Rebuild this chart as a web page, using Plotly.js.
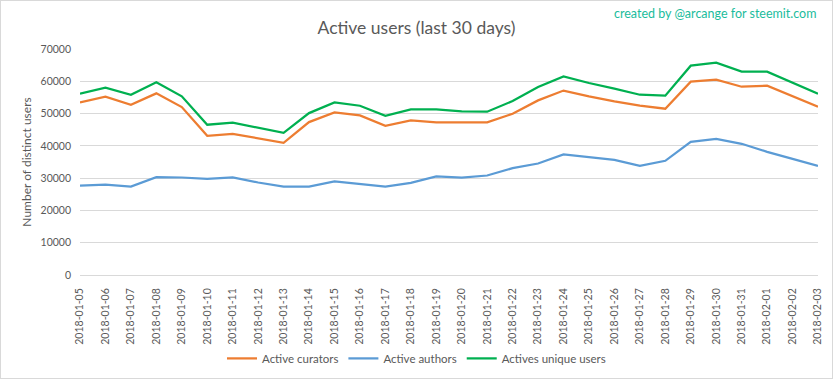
<!DOCTYPE html>
<html>
<head>
<meta charset="utf-8">
<script src="https://cdn.plot.ly/plotly-3.0.1.min.js"></script>
<style>
html,body{margin:0;padding:0;background:#fff;}
#wrap{width:833px;height:379px;box-sizing:border-box;border:1px solid #d9d9d9;}
#chart{width:831px;height:377px;}
</style>
</head>
<body>
<div id="wrap"><div id="chart"></div></div>
<script>
const dates = ["2018-01-05","2018-01-06","2018-01-07","2018-01-08","2018-01-09","2018-01-10","2018-01-11","2018-01-12","2018-01-13","2018-01-14","2018-01-15","2018-01-16","2018-01-17","2018-01-18","2018-01-19","2018-01-20","2018-01-21","2018-01-22","2018-01-23","2018-01-24","2018-01-25","2018-01-26","2018-01-27","2018-01-28","2018-01-29","2018-01-30","2018-01-31","2018-02-01","2018-02-02","2018-02-03"];
const curators = [53460,55220,52740,56260,52020,43120,43740,42400,40950,47360,50360,49430,46230,47880,47260,47260,47260,49950,54080,57130,55330,53780,52430,51500,59880,60500,58320,58630,55330,52120];
const authors = [27710,28020,27400,30300,30200,29780,30200,28650,27400,27400,28960,28230,27400,28540,30510,30200,30820,33090,34540,37330,36400,35680,33820,35370,41260,42190,40640,38160,35990,33820];
const uniques = [56150,58010,55840,59670,55330,46540,47160,45600,44050,50150,53460,52430,49330,51290,51290,50670,50570,53880,58220,61530,59460,57700,55840,55530,64840,65770,62980,62980,59570,56150];
const yTicks = [0,10000,20000,30000,40000,50000,60000,70000];

const font = "Lato, 'Open Sans', sans-serif";
const mk = (name, y, color) => ({type:"scatter", mode:"lines", name, x:dates, y, line:{color, width:2.25}, hoverinfo:"x+y+name"});
const data = [
  mk("Active curators", curators, "#ED7D31"),
  mk("Active authors", authors, "#5B9BD5"),
  mk("Actives unique users", uniques, "#00B050")
];
const layout = {
  width:831, height:377,
  margin:{l:79, r:14, t:48, b:103},
  paper_bgcolor:"#fff", plot_bgcolor:"#fff",
  font:{family:font, color:"#595959", size:11},
  title:{text:"Active users (last 30 days)", x:0.5, xanchor:"center", xref:"container", y:0.93, yanchor:"middle", yref:"container", font:{family:font, size:17.5, color:"#595959"}},
  xaxis:{type:"category", tickangle:-90, tickfont:{size:10.5, color:"#595959"}, showgrid:false, showline:true, linecolor:"#d9d9d9", ticks:"", zeroline:false, fixedrange:true, automargin:false, ticklabelstandoff:8},
  yaxis:{range:[0,70000], tickvals:yTicks, ticktext:yTicks.map(String), showgrid:true, gridcolor:"#d9d9d9", zeroline:false, ticks:"", showline:false, tickfont:{size:10.5, color:"#595959"}, ticklabelstandoff:8, automargin:false,
    title:{text:"Number of distinct users", font:{size:12, color:"#595959"}, standoff:6}},
  showlegend:true,
  legend:{orientation:"h", xref:"container", yref:"container", x:0.5, xanchor:"center", y:0.052, yanchor:"middle", font:{size:11.5, color:"#595959"}, tracegroupgap:0},
  annotations:[{text:"created by @arcange for steemit.com", xref:"paper", yref:"paper", x:1, xanchor:"right", y:1.155, yanchor:"middle", showarrow:false, font:{family:font, size:12.5, color:"#1ABC9C"}}]
};
Plotly.newPlot("chart", data, layout, {displayModeBar:false});
</script>
</body>
</html>
